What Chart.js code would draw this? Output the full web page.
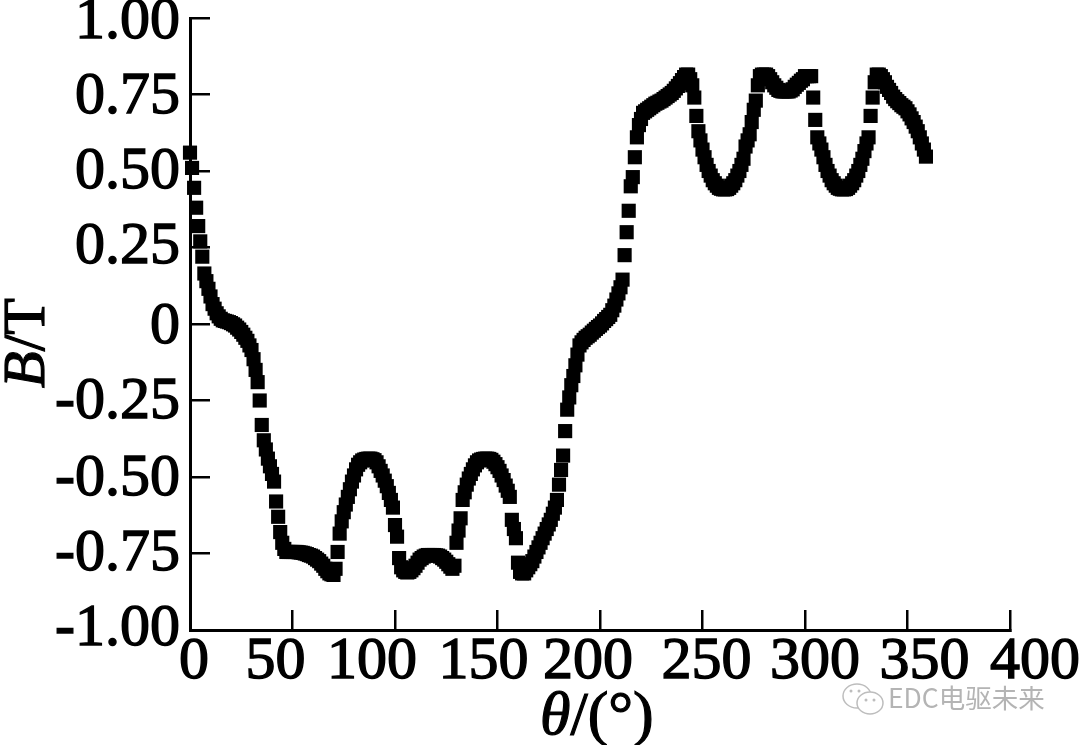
<!DOCTYPE html>
<html><head><meta charset="utf-8">
<style>html,body{margin:0;padding:0;background:#fff}canvas{display:block}</style>
<script src="https://cdn.jsdelivr.net/npm/chart.js@4"></script>
</head><body><canvas id="c" width="1080" height="745"></canvas>
<script>
const b000to059=[.56,.51,.445,.38,.32,.27,.22,.165,.14,.115,.09,.065,.05,.035,.025,.017,.012,.01,.008,.006,.003,-.001,-.005,-.012,-.018,-.026,-.035,-.045,-.055,-.07,-.085,-.115,-.15,-.19,-.25,-.33,-.38,-.41,-.44,-.465,-.49,-.515,-.58,-.63,-.68,-.715,-.735,-.745,-.745,-.745,-.745,-.745,-.745,-.746,-.747,-.748,-.75,-.752,-.755,-.757];
const b060to119=[-.76,-.765,-.77,-.775,-.783,-.79,-.8,-.808,-.815,-.818,-.82,-.8,-.745,-.685,-.645,-.615,-.59,-.565,-.54,-.515,-.495,-.475,-.46,-.452,-.446,-.443,-.441,-.44,-.44,-.442,-.445,-.452,-.465,-.48,-.495,-.512,-.53,-.552,-.575,-.6,-.657,-.695,-.765,-.795,-.805,-.81,-.812,-.81,-.805,-.798,-.79,-.78,-.77,-.765,-.76,-.757,-.755,-.755,-.755,-.755];
const b120to179=[-.756,-.757,-.76,-.765,-.77,-.777,-.785,-.793,-.8,-.79,-.715,-.675,-.635,-.575,-.55,-.525,-.505,-.49,-.475,-.462,-.452,-.446,-.443,-.441,-.44,-.44,-.441,-.444,-.45,-.458,-.468,-.48,-.495,-.51,-.528,-.545,-.565,-.64,-.67,-.7,-.78,-.81,-.815,-.815,-.805,-.795,-.785,-.775,-.76,-.745,-.73,-.715,-.7,-.685,-.67,-.655,-.64,-.62,-.6,-.575];
const b180to239=[-.525,-.477,-.43,-.35,-.28,-.24,-.2,-.17,-.135,-.1,-.07,-.06,-.052,-.045,-.04,-.035,-.028,-.022,-.016,-.01,-.005,.002,.01,.016,.023,.03,.045,.06,.08,.1,.12,.145,.225,.3,.37,.45,.48,.545,.61,.65,.67,.69,.695,.7,.705,.71,.715,.72,.723,.727,.73,.735,.74,.745,.75,.755,.762,.77,.778,.787];
const b240to299=[.797,.807,.815,.815,.8,.78,.74,.68,.63,.6,.57,.545,.52,.5,.485,.47,.46,.452,.445,.442,.44,.44,.441,.445,.452,.46,.47,.485,.5,.52,.54,.58,.6,.62,.66,.7,.73,.78,.81,.815,.815,.815,.81,.8,.79,.78,.772,.765,.762,.76,.76,.76,.76,.763,.767,.775,.782,.788,.795,.8];
const b300to359=[.81,.81,.81,.81,.74,.667,.61,.59,.57,.545,.52,.5,.485,.47,.46,.452,.445,.442,.44,.44,.441,.445,.452,.46,.47,.485,.5,.52,.54,.565,.59,.61,.68,.74,.79,.815,.815,.81,.8,.79,.775,.765,.755,.743,.735,.728,.722,.715,.71,.705,.695,.685,.672,.66,.645,.63,.61,.59,.57,.547];
const bValues=[...b000to059,...b060to119,...b120to179,...b180to239,...b240to299,...b300to359];
const xTickLabels=['0','50','100','150','200','250','300','350','400'];
const yTickLabels=['-1.00','-0.75','-0.50','-0.25','0','0.25','0.50','0.75','1.00'];
const xLabelShift=[4,-17,-23,-14,-12,4,10,17,25];
const yLabelShift=[-1,1,2,2,3,0,1,3,4];
const serif='"Liberation Serif"';

const mixed={id:'mixed',
  afterLayout(chart){
    chart.scales.x.getLabelItems().forEach((it,i)=>{it.options.translation[0]+=xLabelShift[i];});
    chart.scales.y.getLabelItems().forEach((it,i)=>{it.options.translation[1]+=yLabelShift[i];});
  },
  afterDraw(chart){
    const ctx=chart.ctx;
    const run=(parts,x,y)=>{parts.forEach(([t,f])=>{ctx.font=f;ctx.fillText(t,x,y);ctx.strokeText(t,x,y);x+=ctx.measureText(t).width;});};
    ctx.save();
    ctx.fillStyle='#000';ctx.strokeStyle='#000';ctx.lineWidth=1.2;ctx.textAlign='left';ctx.textBaseline='alphabetic';
    run([['θ','italic 62px '+serif],['/(°)','62px '+serif]],540,734);
    ctx.translate(44,388);ctx.rotate(-Math.PI/2);
    run([['B','italic 60px '+serif],['/T','60px '+serif]],0,0);
    ctx.restore();
    ctx.save();
    ctx.fillStyle='#b4b4b4';ctx.textAlign='left';ctx.textBaseline='middle';
    ctx.font='26.5px "Noto Sans CJK SC"';
    ctx.fillText('EDC电驱未来',888,698);
    ctx.strokeStyle='#bdbdbd';ctx.lineWidth=1.5;
    ctx.fillStyle='#fff';
    ctx.beginPath();ctx.ellipse(857,696,14,12,0,0,Math.PI*2);ctx.stroke();
    ctx.beginPath();ctx.ellipse(870,703,13,11,0,0,Math.PI*2);ctx.fill();ctx.stroke();
    ctx.fillStyle='#bdbdbd';
    [[851,691],[859,691],[866,700],[874,700]].forEach(([x,y])=>{ctx.beginPath();ctx.arc(x,y,1.5,0,Math.PI*2);ctx.fill();});
    ctx.restore();
  }
};
const noPad=s=>{s.paddingTop=0;s.paddingBottom=0;s.paddingLeft=0;s.paddingRight=0;};

new Chart(document.getElementById('c'),{
  type:'scatter',
  data:{datasets:[{
    data:bValues.map((b,i)=>({x:i,y:b})),
    pointStyle:'rect',pointRadius:10,pointBorderWidth:0,pointBackgroundColor:'#000',
    showLine:false,clip:false
  }]},
  plugins:[mixed],
  options:{
    responsive:false,animation:false,devicePixelRatio:1,
    layout:{padding:{top:18,right:70,left:0,bottom:0}},
    plugins:{legend:{display:false},tooltip:{enabled:false}},
    scales:{
      x:{type:'linear',min:0,max:400,
        afterFit(s){s.height=115;noPad(s);},
        border:{color:'#000',width:3},
        grid:{drawOnChartArea:false,color:'#000',lineWidth:2.5,tickLength:-20},
        ticks:{stepSize:50,autoSkip:false,maxRotation:0,padding:16,color:'#000',
          textStrokeColor:'#000',textStrokeWidth:1.4,
          font:{family:serif,size:60},callback:(v,i)=>xTickLabels[i]}},
      y:{type:'linear',min:-1,max:1,
        afterFit(s){s.width=190;noPad(s);},
        border:{color:'#000',width:3},
        grid:{drawOnChartArea:false,color:'#000',lineWidth:2.5,tickLength:-20},
        ticks:{stepSize:.25,autoSkip:false,padding:30,color:'#000',
          textStrokeColor:'#000',textStrokeWidth:1.4,
          font:{family:serif,size:60},callback:(v,i)=>yTickLabels[i]}}
    }
  }
});
</script></body></html>
